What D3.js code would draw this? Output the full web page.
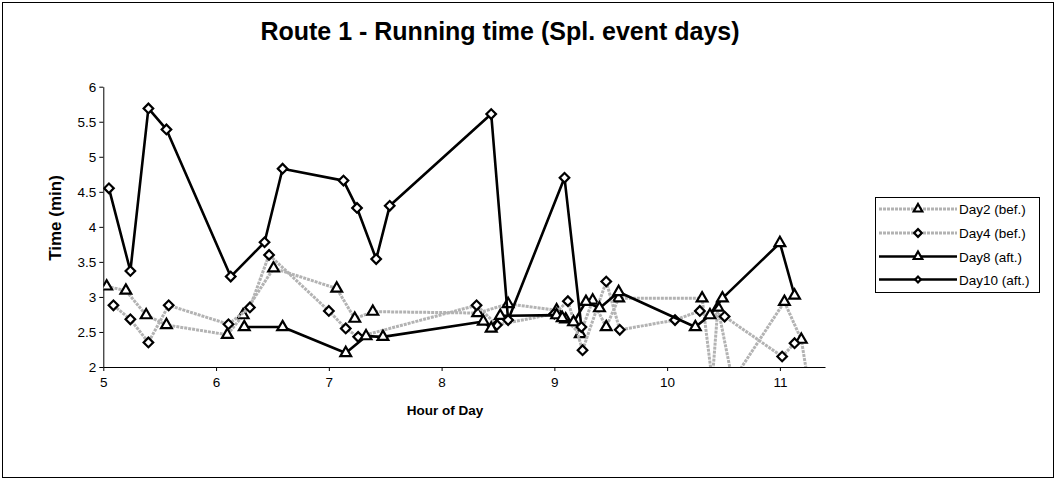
<!DOCTYPE html>
<html><head><meta charset="utf-8">
<script src="https://cdn.jsdelivr.net/npm/d3@7"></script>
<style>body{margin:0;background:#fff}svg{display:block;font-family:"Liberation Sans",Arial,sans-serif}</style>
</head><body><svg id="c" width="1056" height="480"></svg>
<script>
const chartTitle = "Route 1 - Running time (Spl. event days)";
const xTitle = "Hour of Day";
const yTitle = "Time (min)";
const seriesNames = ["Day2 (bef.)", "Day4 (bef.)", "Day8 (aft.)", "Day10 (aft.)"];
const yTicks = [2, 2.5, 3, 3.5, 4, 4.5, 5, 5.5, 6];
const xTicks = [5, 6, 7, 8, 9, 10, 11];

const day2Hour = [5.03, 5.20, 5.38, 5.56, 6.10, 6.24, 6.51, 7.07, 7.23, 7.39, 8.32, 8.59, 9.02, 9.10, 9.23, 9.34, 9.46, 9.57, 10.31, 10.40, 10.45, 10.58, 11.04, 11.19, 11.27];
const day2Time = [3.15, 3.09, 2.74, 2.60, 2.46, 2.74, 3.41, 3.12, 2.69, 2.79, 2.77, 2.90, 2.81, 2.68, 2.47, 2.95, 2.57, 2.98, 2.98, 1.80, 2.85, 1.80, 2.93, 2.39, 1.60];

const day4Hour = [5.09, 5.24, 5.40, 5.58, 6.11, 6.30, 6.47, 7.00, 7.15, 7.26, 8.31, 8.49, 9.00, 9.12, 9.25, 9.46, 9.58, 10.07, 10.29, 10.51, 11.02, 11.13];
const day4Time = [2.88, 2.68, 2.35, 2.88, 2.61, 2.85, 3.60, 2.80, 2.55, 2.43, 2.88, 2.60, 2.76, 2.94, 2.24, 3.22, 2.53, 2.67, 2.80, 2.72, 2.15, 2.34];

const day8Hour = [6.25, 6.59, 7.15, 7.33, 7.48, 8.37, 8.44, 8.52, 9.02, 9.07, 9.17, 9.28, 9.40, 9.57, 10.25, 10.38, 10.49, 11.00, 11.13];
const day8Time = [2.57, 2.57, 2.20, 2.44, 2.43, 2.65, 2.55, 2.73, 2.74, 2.70, 2.64, 2.93, 2.84, 3.07, 2.57, 2.74, 2.98, 3.77, 3.02];

const day10Hour = [5.05, 5.24, 5.40, 5.56, 6.13, 6.43, 6.59, 7.13, 7.25, 7.42, 7.54, 8.44, 8.59, 9.09, 9.24];
const day10Time = [4.55, 3.37, 5.69, 5.39, 3.29, 3.78, 4.83, 4.66, 4.27, 3.54, 4.30, 5.61, 2.67, 4.70, 2.57];

const hours = [day2Hour, day4Hour, day8Hour, day10Hour];
const times = [day2Time, day4Time, day8Time, day10Time];
const markerKind = ["tri", "dia", "tri", "dia"];
const lineKind = ["gray", "gray", "black", "black"];

const svg = d3.select("#c");
const W = 1056, H = 480;
const P = {l: 103.3, r: 825, t: 86.7, b: 367};

svg.append("rect").attr("x", 2.5).attr("y", 2.5).attr("width", W - 5).attr("height", H - 5)
  .attr("fill", "#fff").attr("stroke", "#000").attr("stroke-width", 1);

const x = d3.scaleLinear().domain([5, 11.4]).range([P.l, P.r]);
const y = d3.scaleLinear().domain([2, 6]).range([P.b, P.t]);

svg.append("defs").append("clipPath").attr("id", "clip")
  .append("rect").attr("x", P.l).attr("y", P.t - 10).attr("width", P.r - P.l + 10).attr("height", P.b - P.t + 10);

// axes
const yAxis = d3.axisLeft(y).tickValues(yTicks).tickSize(4).tickSizeOuter(0).tickPadding(3).tickFormat(d => String(d));
const gy = svg.append("g").attr("transform", `translate(${P.l},0)`).call(yAxis);
const xAxis = d3.axisBottom(x).tickValues(xTicks).tickSize(4).tickSizeOuter(0).tickPadding(6).tickFormat(d => String(d));
const gx = svg.append("g").attr("transform", `translate(0,${P.b})`).call(xAxis);
[gy, gx].forEach(g => {
  g.select(".domain").attr("stroke", "#000").attr("stroke-width", 1);
  g.selectAll(".tick line").attr("stroke", "#000");
  g.selectAll(".tick text").attr("fill", "#000").style("font-size", "13.5px").style("font-family", '"Liberation Sans",Arial,sans-serif');
});

// titles
svg.append("text").attr("x", 500).attr("y", 40).attr("text-anchor", "middle")
  .style("font-size", "25px").style("font-weight", "bold").text(chartTitle);
svg.append("text").attr("transform", "translate(61,218) rotate(-90)").attr("text-anchor", "middle")
  .style("font-size", "17px").style("font-weight", "bold").text(yTitle);
svg.append("text").attr("x", 445).attr("y", 415).attr("text-anchor", "middle")
  .style("font-size", "13.5px").style("font-weight", "bold").text(xTitle);

function styleLine(sel, kind) {
  if (kind === "gray") sel.attr("stroke", "#b3b3b3").attr("stroke-width", 3).attr("stroke-dasharray", "3,1");
  else sel.attr("stroke", "#000").attr("stroke-width", 2.6);
  return sel.attr("fill", "none").attr("stroke-linejoin", "round");
}
const triPath = d3.symbol().type(d3.symbolTriangle).size(50)();
const diaPath = d3.symbol().type(d3.symbolSquare).size(46)();
function marker(g, kind, cx, cy, scale) {
  const s = scale || 1;
  if (kind === "tri") {
    g.append("path").attr("d", triPath).attr("transform", `translate(${cx},${cy}) scale(${s})`)
      .attr("fill", "#fff").attr("stroke", "#000").attr("stroke-width", 2.2 / s);
  } else {
    g.append("path").attr("d", diaPath).attr("transform", `translate(${cx},${cy}) rotate(45) scale(${s})`)
      .attr("fill", "#fff").attr("stroke", "#000").attr("stroke-width", 2.2 / s);
  }
}

const plot = svg.append("g").attr("clip-path", "url(#clip)");
const line = d3.line().x(d => x(d[0])).y(d => y(d[1]));
hours.forEach((hs, i) => {
  const pts = hs.map((h, j) => [h, times[i][j]]);
  const g = plot.append("g");
  styleLine(g.append("path").attr("d", line(pts)), lineKind[i]);
  pts.filter(p => p[1] >= 2).forEach(p => marker(g, markerKind[i], x(p[0]), y(p[1])));
});

// legend
const L = {x: 875.5, y: 197.5, w: 164, h: 95};
svg.append("rect").attr("x", L.x).attr("y", L.y).attr("width", L.w).attr("height", L.h)
  .attr("fill", "#fff").attr("stroke", "#000").attr("stroke-width", 1);
const rowY = [209, 233, 256.5, 279.5];
seriesNames.forEach((n, i) => {
  const g = svg.append("g");
  styleLine(g.append("line").attr("x1", 879).attr("x2", 957).attr("y1", rowY[i]).attr("y2", rowY[i]), lineKind[i]);
  marker(g, markerKind[i], 918, rowY[i], i === 3 ? 0.6 : 0.8);
  g.append("text").attr("x", 959).attr("y", rowY[i] + 5).style("font-size", "13.5px").text(n);
});
</script></body></html>
